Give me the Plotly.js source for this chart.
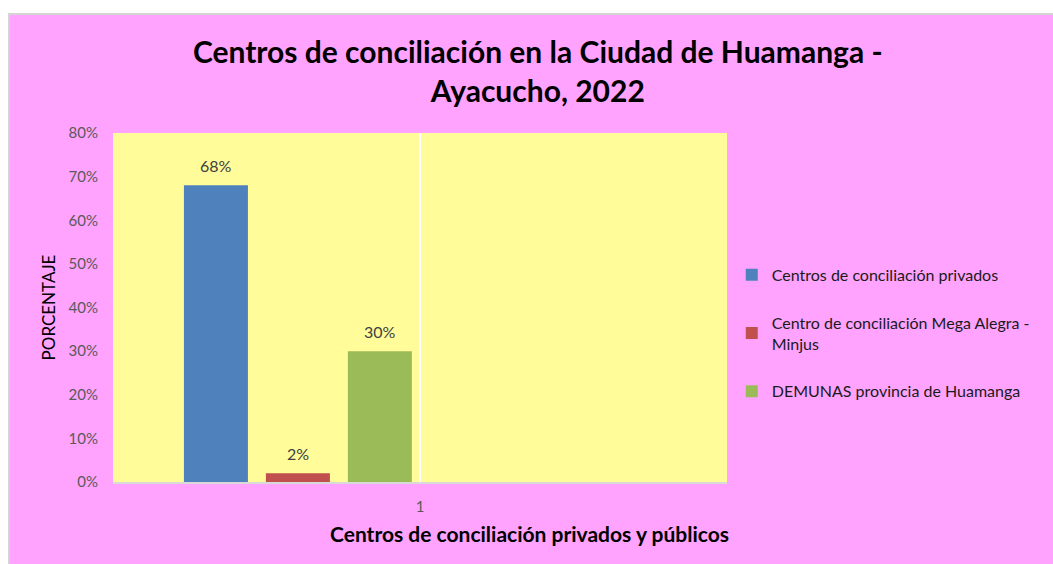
<!DOCTYPE html>
<html>
<head>
<meta charset="utf-8">
<script src="https://cdn.plot.ly/plotly-3.0.1.min.js"></script>
<style>
html,body{margin:0;padding:0;background:#ffffff;overflow:hidden;}
#wrap{position:absolute;left:8px;top:13px;border-left:2px solid #d4d4d4;border-top:2px solid #d4d4d4;}
#chart{width:1043px;height:549px;}
</style>
</head>
<body>
<div id="wrap"><div id="chart"></div></div>
<script>
var categories = ['1'];
var seriesNames = ['Centros de conciliación privados', 'Centro de conciliación Mega Alegra -<br>Minjus', 'DEMUNAS provincia de Huamanga'];
var seriesValues = [[0.68], [0.02], [0.30]];
var seriesColors = ['#4F81BD', '#C0504D', '#9BBB59'];
var yTickVals = [0, 0.1, 0.2, 0.3, 0.4, 0.5, 0.6, 0.7, 0.8];
var yTickText = ['0%', '10%', '20%', '30%', '40%', '50%', '60%', '70%', '80%'];

var FONT = 'Lato, "Open Sans", sans-serif';
var barWidth = 0.2085;
var offsets = [-0.769, -0.502, -0.235];

var traces = seriesNames.map(function(name, i){
  return {
    type: 'bar',
    name: name,
    x: categories,
    y: seriesValues[i],
    width: barWidth,
    offset: offsets[i],
    marker: {color: seriesColors[i]},
    legendgroup: 'g' + i,
    hoverinfo: 'none'
  };
});

var annotations = [];
seriesValues.forEach(function(vals, i){
  vals.forEach(function(v, j){
    annotations.push({
      xref: 'x', yref: 'y',
      x: j + offsets[i] + barWidth / 2,
      y: v,
      text: Math.round(v * 100) + '%',
      showarrow: false,
      yanchor: 'middle', xanchor: 'center',
      yshift: 20,
      font: {family: FONT, size: 16, color: '#404040'}
    });
  });
});
annotations.push({
  xref: 'paper', yref: 'paper',
  x: 0.678, y: -0.147,
  xanchor: 'center', yanchor: 'middle',
  text: '<b>Centros de conciliación privados y públicos</b>',
  showarrow: false,
  font: {family: FONT, size: 21, color: '#000000'}
});

var layout = {
  width: 1043, height: 549,
  paper_bgcolor: '#FFA3FF',
  plot_bgcolor: '#FFFC99',
  margin: {l: 103, r: 326, t: 118, b: 82},
  font: {family: FONT, color: '#595959'},
  title: {
    text: '<b>Centros de conciliación en la Ciudad de Huamanga -<br>Ayacucho, 2022</b>',
    font: {family: FONT, size: 30, color: '#000000'},
    x: 0.506, xanchor: 'center',
    y: 0.912, yanchor: 'top', yref: 'container'
  },
  barmode: 'overlay',
  showlegend: true,
  legend: {
    xref: 'container', yref: 'container',
    x: 0.692, xanchor: 'left', y: 0.42, yanchor: 'middle',
    font: {family: FONT, size: 16, color: '#1a1a1a'},
    bgcolor: 'rgba(0,0,0,0)',
    traceorder: 'grouped',
    tracegroupgap: 24,
    itemwidth: 30
  },
  annotations: annotations,
  xaxis: {
    type: 'category',
    range: [-1, 1],
    showgrid: true, gridcolor: '#ffffff', gridwidth: 2,
    showline: true, linecolor: '#d9d9d9', linewidth: 2,
    ticks: '', ticklabelstandoff: 10,
    tickfont: {family: FONT, size: 15, color: '#595959'},
    fixedrange: true
  },
  yaxis: {
    range: [0, 0.8],
    tickvals: yTickVals, ticktext: yTickText,
    showgrid: false, zeroline: false,
    showline: false,
    ticks: '', ticklabelstandoff: 14,
    tickfont: {family: FONT, size: 15, color: '#595959'},
    title: {text: 'PORCENTAJE', font: {family: FONT, size: 17, color: '#000000'}, standoff: 8},
    fixedrange: true
  }
};

Plotly.newPlot('chart', traces, layout, {displayModeBar: false, staticPlot: true});
</script>
</body>
</html>
